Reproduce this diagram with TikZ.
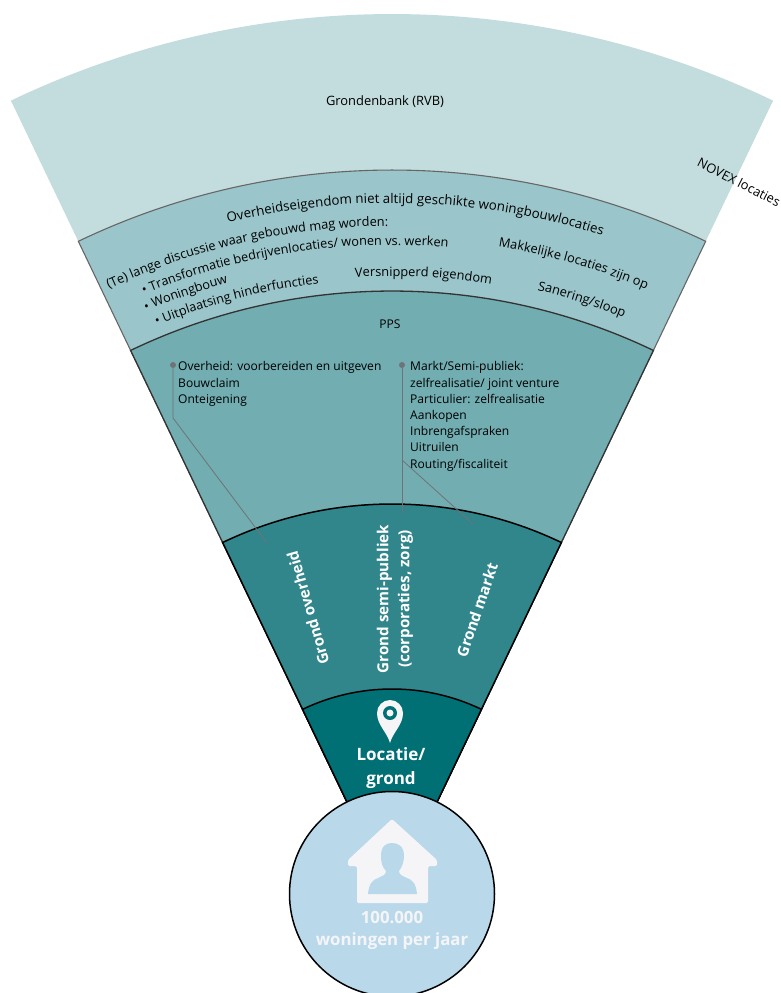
\documentclass[tikz,border=0pt]{standalone}
\usepackage{fontspec}
\setmainfont{Open Sans}
\usetikzlibrary{decorations.text}
\definecolor{bandone}{HTML}{C3DCDD}
\definecolor{bandtwo}{HTML}{9AC5CA}
\definecolor{bandthree}{HTML}{71ADB1}
\definecolor{bandfour}{HTML}{31868C}
\definecolor{bandfive}{HTML}{017075}
\definecolor{ballblue}{HTML}{B9D9EB}
\definecolor{iconwhite}{HTML}{F5F5F8}
\definecolor{leadgray}{HTML}{6F7375}
% text that follows the fan: size, radius, start angle, text
\newcommand{\fantext}[4]{\path[decorate,decoration={text along path,text={|\fontsize{#1}{14}\selectfont|#4}}] (-#3:#2) arc[start angle=-#3,end angle=-#3+70,radius=#2];}
\begin{document}
\begin{tikzpicture}[x=1pt,y=-1pt,
  small/.style={font=\fontsize{12.05}{16.2}\selectfont,align=left,inner sep=0,text=black},
  plain/.style={font=\fontsize{12.9}{14}\selectfont,inner sep=0},
  whitebold/.style={font=\fontsize{15.2}{21}\bfseries\selectfont,text=white,align=center,inner sep=0},
  dot/.style={circle,fill=leadgray,inner sep=0,minimum size=6},
  lead/.style={draw=leadgray,line width=0.8}]
\useasboundingbox (0,0) rectangle (781,993);

\begin{scope}[shift={(392,896)}]
\fill[bandone] (0,0) -- (-115.6:882) arc[start angle=-115.6,end angle=-64.4,radius=882] -- cycle;
\draw[fill=bandtwo,draw=black!60,line width=1.1] (0,0) -- (-115.6:726) arc[start angle=-115.6,end angle=-64.4,radius=726] -- cycle;
\draw[fill=bandthree,draw=black!80,line width=1.3] (0,0) -- (-115.6:605) arc[start angle=-115.6,end angle=-64.4,radius=605] -- cycle;
\draw[fill=bandfour,draw=black,line width=1.5] (0,0) -- (-115.6:392) arc[start angle=-115.6,end angle=-64.4,radius=392] -- cycle;
\draw[fill=bandfive,draw=black,line width=1.5] (0,0) -- (-115.6:207) arc[start angle=-115.6,end angle=-64.4,radius=207] -- cycle;

\fantext{13.3}{693}{103.7}{Overheidseigendom niet altijd geschikte woningbouwlocaties}
\fantext{12.8}{670}{115.0}{(Te) lange discussie waar gebouwd mag worden:}
\fantext{12.7}{651}{112.4}{• Transformatie bedrijvenlocaties/ wonen vs. werken}
\fantext{12.7}{634.5}{112.8}{• Woningbouw}
\fantext{12.7}{617}{112.4}{• Uitplaatsing hinderfuncties}
\fantext{12.8}{620}{93.4}{Versnipperd eigendom}
\fantext{12.8}{658}{80.7}{Makkelijke locaties zijn op}
\fantext{12.9}{623}{76.5}{Sanering/sloop}
\end{scope}

\node[plain] (grondenbank) at (385,101.5) {Grondenbank (RVB)};
\node[plain,rotate=-27] (novex) at (739,182) {NOVEX locaties};
\node[small] (pps) at (390,324) {PPS};

\node[small,anchor=north west] (overheid) at (178,361.5) {Overheid: voorbereiden en uitgeven\\Bouwclaim\\Onteigening};
\node[small,anchor=north west] (markt) at (410,361.5) {Markt/Semi-publiek:\\zelfrealisatie/ joint venture\\Particulier: zelfrealisatie\\Aankopen\\Inbrengafspraken\\Uitruilen\\Routing/fiscaliteit};

\node[dot] (overheiddot) at (173,365) {};
\node[dot] (marktdot) at (402,365) {};
\coordinate (overheidbend) at (173,418);
\coordinate (overheidend) at (267,543);
\coordinate (marktsplit) at (402,460);
\coordinate (semiend) at (402,513);
\coordinate (marktend) at (473,524);
\draw[lead] (overheiddot) -- (overheidbend) -- (overheidend);
\draw[lead,line width=1] (marktdot) -- (semiend);
\draw[lead] (marktsplit) -- (marktend);

\node[whitebold,rotate=106] (overheidgrond) at (308,608) {Grond overheid};
\node[whitebold,rotate=90] (semigrond) at (395,599) {Grond semi-publiek\\(corporaties, zorg)};
\node[whitebold,rotate=71] (marktgrond) at (477,610) {Grond markt};

% pin
\fill[iconwhite] (390,743) .. controls (387,732) and (377,725) .. (377,713) arc[start angle=180,end angle=360,radius=13] .. controls (403,725) and (393,732) .. (390,743) -- cycle;
\fill[bandfive] (390,713) circle[radius=7];
\fill[iconwhite] (390,713) circle[radius=3.5];
\node[whitebold,font=\fontsize{17}{24}\bfseries\selectfont] (locatie) at (391,768) {Locatie/\\grond};

\node[circle,fill=ballblue,draw=black,line width=1.5,minimum size=205,inner sep=0] (ball) at (392,894) {};

% house
\fill[iconwhite,rounded corners=1.5] (392,819) -- (348,860) -- (348,866) -- (357,866) -- (357,903) -- (428,903) -- (428,866) -- (437,866) -- (437,860) -- cycle;
\fill[ballblue] (368,894) .. controls (369,884) and (372,880) .. (378,878) .. controls (382,876) and (386,875) .. (386,871) .. controls (382,867) and (381,862) .. (381,856) .. controls (381,846) and (386,843) .. (392,843) .. controls (398,843) and (404,846) .. (404,856) .. controls (404,862) and (402,867) .. (399,871) .. controls (399,875) and (403,876) .. (407,878) .. controls (413,880) and (416,884) .. (417,894) -- cycle;
\node[whitebold,font=\fontsize{16.8}{22}\bfseries\selectfont,text=iconwhite] (woningen) at (392,930) {100.000\\woningen per jaar};
\end{tikzpicture}
\end{document}
